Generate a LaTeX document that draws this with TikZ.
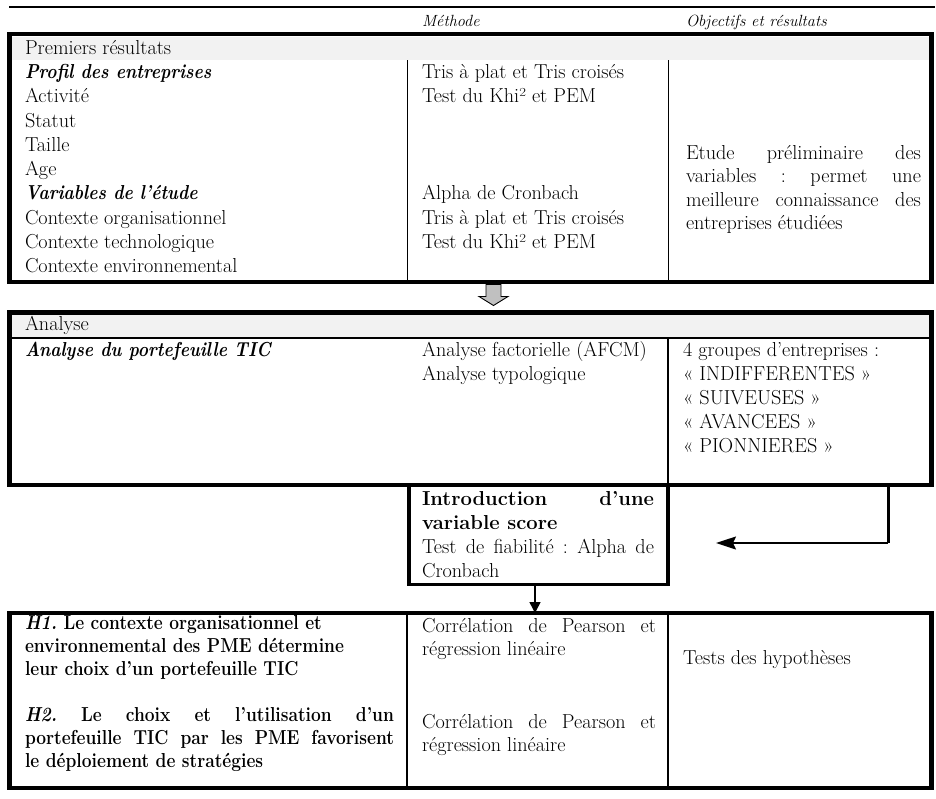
\documentclass[tikz,border=0pt]{standalone}
\usepackage{fontspec}
\usepackage{graphicx}
\usetikzlibrary{arrows.meta}
\definecolor{bandgray}{HTML}{F2F2F2}
\definecolor{arrowgray}{HTML}{C0C0C0}
\newcommand{\mycond}[1]{\scalebox{0.86}[1]{#1}}
\frenchspacing
\begin{document}
\begin{tikzpicture}[x=1pt,y=-1pt,
  txt/.style={anchor=base west, inner sep=0pt, outer sep=0pt, font=\fontsize{20.2}{24}\selectfont},
  hdr/.style={anchor=base west, inner sep=0pt, outer sep=0pt, font=\fontsize{16.2}{18}\selectfont\itshape},
  bigbox/.style={draw, line width=4.5pt, anchor=north west, inner sep=0pt, outer sep=0pt, minimum width=922pt},
  scbox/.style={draw, line width=3.5pt, anchor=north west, inner sep=0pt, outer sep=0pt},
  band/.style={fill=bandgray},
  thindiv/.style={line width=1pt},
  thickdiv/.style={line width=2.5pt},
  conn/.style={line width=1.5pt}
]
\useasboundingbox (0,0) rectangle (936,798);

% top rule
\draw[line width=2pt] (9,7) -- (935,7);

% header labels
\node[hdr] (hmeth) at (422,26) {Méthode};
\node[hdr] (hobj) at (686,26) {Objectifs et résultats};

% bands and dividers
\fill[band] (12,36.5) rectangle (929,60);
\fill[band] (12,315) rectangle (929,337);
\draw[line width=2pt] (12,338) -- (929,338);
\draw[thindiv] (407,60) -- (407,280);
\draw[thindiv] (668,60) -- (668,280);
\draw[thickdiv] (668,338) -- (668,485);
\draw[thickdiv] (407,613) -- (407,788);
\draw[thickdiv] (668,613) -- (668,788);

% boxes
\node[bigbox, minimum height=248pt] (box1) at (9.5,34) {};
\node[bigbox, minimum height=172.5pt] (box2) at (9.5,312.5) {};
\node[scbox, minimum width=259pt, minimum height=99.5pt] (scorebox) at (409,485) {};
\node[bigbox, minimum height=175pt] (box3) at (9.5,613) {};

% grey block arrow box1 -> box2
\path ([xshift=23pt]box1.south) coordinate (ga);
\draw[fill=arrowgray, line width=0.9pt, line join=miter]
  ([shift={(-7.5,2.5)}]ga) -- ++(0,12) -- ++(-7,0) -- ++(14.5,9) -- ++(14.5,-9)
  -- ++(-7,0) -- ++(0,-12) -- cycle;

% right-angle arrow from box2 towards the score box
\path ([xshift=417.5pt]box2.south) coordinate (rstart);
\coordinate (rend) at (716,543);
\draw[line width=3pt] (rstart) -- (rstart |- rend) coordinate (rcorner);
\draw[line width=1.5pt, -{Stealth[length=20pt,width=13pt,inset=3pt]}] (rcorner) -- (rend);

% down arrow score box -> box3
\path ([xshift=-3.5pt]scorebox.south) coordinate (dstart);
\draw[conn, -{Triangle[length=11pt,width=11pt]}] (dstart) -- (dstart |- box3.north);

% ---------- box 1 text ----------
\node[txt] (t01) at (25,54) {Premiers résultats};
\node[txt] (t02) at (25,78) {\mycond{\textbf{\textit{Profil des entreprises}}}};
\node[txt] (t03) at (25,102) {Activité};
\node[txt] (t04) at (25,127) {Statut};
\node[txt] (t05) at (25,151) {Taille};
\node[txt] (t06) at (25,175) {Age};
\node[txt] (t07) at (25,199) {\mycond{\textbf{\textit{Variables de l’étude}}}};
\node[txt] (t08) at (25,224) {Contexte organisationnel};
\node[txt] (t09) at (25,248) {Contexte technologique};
\node[txt] (t10) at (25,272) {Contexte environnemental};

\node[txt] (m01) at (422,78) {Tris à plat et Tris croisés};
\node[txt] (m02) at (422,102) {Test du Khi² et PEM};
\node[txt] (m03) at (422,199) {Alpha de Cronbach};
\node[txt] (m04) at (422,224) {Tris à plat et Tris croisés};
\node[txt] (m05) at (422,248) {Test du Khi² et PEM};

\node[txt] (o01) at (686,159) {\makebox[235pt][s]{Etude préliminaire des}};
\node[txt] (o02) at (686,182) {\makebox[235pt][s]{variables : permet une}};
\node[txt] (o03) at (686,206) {\makebox[235pt][s]{meilleure connaissance des}};
\node[txt] (o04) at (686,229) {entreprises étudiées};

% ---------- box 2 text ----------
\node[txt] (a01) at (25,330) {Analyse};
\node[txt] (a02) at (25,356) {\mycond{\textbf{\textit{Analyse du portefeuille TIC}}}};
\node[txt] (a03) at (422,356) {Analyse factorielle (AFCM)};
\node[txt] (a04) at (422,380) {Analyse typologique};
\node[txt] (a05) at (683,356) {4 groupes d’entreprises :};
\node[txt] (a06) at (683,380) {« INDIFFERENTES »};
\node[txt] (a07) at (683,404) {« SUIVEUSES »};
\node[txt] (a08) at (683,428) {« AVANCEES »};
\node[txt] (a09) at (683,452) {« PIONNIERES »};

% ---------- score box text ----------
\node[txt] (s01) at (422,505) {\makebox[232pt][s]{\bfseries Introduction d’une}};
\node[txt] (s02) at (422,529) {\textbf{variable score}};
\node[txt] (s03) at (422,553) {\makebox[232pt][s]{Test de fiabilité : Alpha de}};
\node[txt] (s04) at (422,577) {Cronbach};

% ---------- box 3 text ----------
\node[txt] (h01) at (25,629) {\mycond{\textbf{\textit{H1.} Le contexte organisationnel et}}};
\node[txt] (h02) at (25,652) {\mycond{\textbf{environnemental des PME détermine}}};
\node[txt] (h03) at (25,675) {\mycond{\textbf{leur choix d’un portefeuille TIC}}};
\node[txt] (h04) at (25,721) {\mycond{\makebox[429pt][s]{\bfseries\textit{H2.} Le choix et l’utilisation d’un}}};
\node[txt] (h05) at (25,744) {\mycond{\makebox[429pt][s]{\bfseries portefeuille TIC par les PME favorisent}}};
\node[txt] (h06) at (25,767) {\mycond{\textbf{le déploiement de stratégies}}};

\node[txt] (c01) at (422,632) {\makebox[234pt][s]{Corrélation de Pearson et}};
\node[txt] (c02) at (422,655) {régression linéaire};
\node[txt] (c03) at (422,728) {\makebox[234pt][s]{Corrélation de Pearson et}};
\node[txt] (c04) at (422,751) {régression linéaire};
\node[txt] (c05) at (683,664) {Tests des hypothèses};
\end{tikzpicture}
\end{document}
